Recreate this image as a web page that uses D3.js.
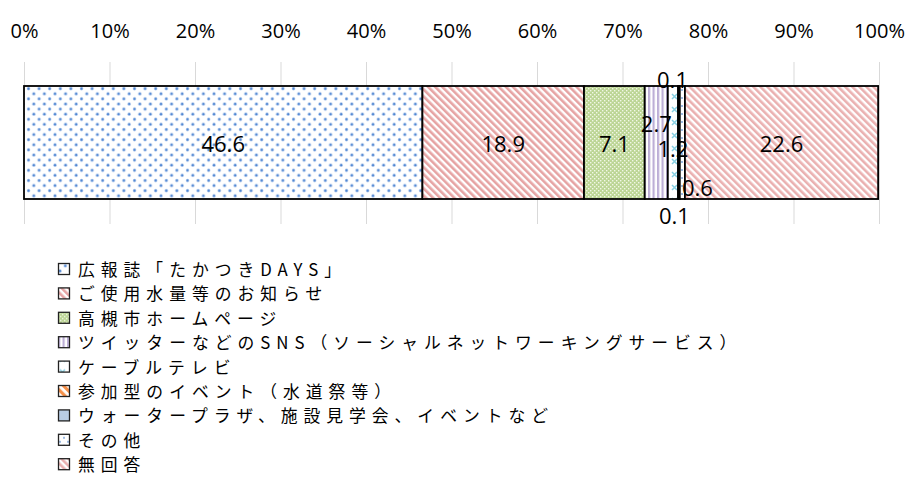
<!DOCTYPE html>
<html>
<head>
<meta charset="utf-8">
<script src="https://cdn.jsdelivr.net/npm/d3@7"></script>
<style>
  body { margin: 0; background: #fff; }
  .axis text { font-family: "Open Sans", sans-serif; font-weight: 400; font-size: 20px; fill: #000; }
  .axis path { display: none; }
  .grid line { stroke: #d9d9d9; stroke-width: 1; }
  .grid path { display: none; }
  .value-label { font-family: "Open Sans", sans-serif; font-weight: 400; font-size: 22px; fill: #000; }
  .legend-text { font-family: "Noto Sans CJK JP", sans-serif; font-size: 16.8px; letter-spacing: 6px; fill: #000; }
</style>
</head>
<body>
<svg id="chart" width="910" height="492"></svg>
<script>
//Series names (legend order) and values in %
const seriesNames = [
  "広報誌「たかつきDAYS」",
  "ご使用水量等のお知らせ",
  "高槻市ホームページ",
  "ツイッターなどのSNS（ソーシャルネットワーキングサービス）",
  "ケーブルテレビ",
  "参加型のイベント（水道祭等）",
  "ウォータープラザ、施設見学会、イベントなど",
  "その他",
  "無回答"
];
const seriesValues = [46.6, 18.9, 7.1, 2.7, 1.2, 0.1, 0.1, 0.6, 22.6];
const tickValues = [0, 10, 20, 30, 40, 50, 60, 70, 80, 90, 100];

//Layout
const svg = d3.select("#chart");
const left = 24, right = 879;
const barTop = 86, barBottom = 199;
const gridTop = 62, gridBottom = 224;

const x = d3.scaleLinear().domain([0, 100]).range([left, right]);

//Patterns for every series
const defs = svg.append("defs");

function pattern(id, w, h, bg) {
  const p = defs.append("pattern")
    .attr("id", id)
    .attr("patternUnits", "userSpaceOnUse")
    .attr("width", w)
    .attr("height", h);
  p.append("rect").attr("width", w).attr("height", h).attr("fill", bg);
  return p;
}

// dots blue
let p = pattern("p0", 10.6, 10.2, "#fff");
p.append("circle").attr("cx", 2).attr("cy", 2).attr("r", 1.7).attr("fill", "#a3c0ea");
p.append("circle").attr("cx", 7.3).attr("cy", 7.1).attr("r", 1.7).attr("fill", "#a3c0ea");
p.append("circle").attr("cx", 2).attr("cy", 2).attr("r", 1).attr("fill", "#4a82d0");
p.append("circle").attr("cx", 7.3).attr("cy", 7.1).attr("r", 1).attr("fill", "#4a82d0");

// pink diagonal
p = pattern("p1", 5, 5, "#fff").attr("patternTransform", "rotate(-45)");
p.append("rect").attr("width", 2.6).attr("height", 5).attr("fill", "#e6a3a3");

// green fine check
p = pattern("p2", 4, 4, "#bcd595");
p.append("rect").attr("x", 0).attr("y", 0).attr("width", 1.4).attr("height", 1.4).attr("fill", "#f1f7e6");
p.append("rect").attr("x", 2).attr("y", 2).attr("width", 1.4).attr("height", 1.4).attr("fill", "#f1f7e6");

// purple vertical
p = pattern("p3", 4.5, 4, "#fff");
p.append("rect").attr("width", 2.2).attr("height", 4).attr("fill", "#bcaed6");

// light blue crosses
p = pattern("p4", 10, 13, "#fff");
p.append("path").attr("d", "M2,3L7,8M7,3L2,8").attr("stroke", "#86cfe2").attr("stroke-width", 1.5);

// orange diagonal
p = pattern("p5", 6, 6, "#fff").attr("patternTransform", "rotate(-45)");
p.append("rect").attr("width", 3.2).attr("height", 6).attr("fill", "#f6914a");

// light blue solid
pattern("p6", 4, 4, "#b9cde5");

// sparse dots
p = pattern("p7", 8, 8, "#fff");
p.append("circle").attr("cx", 2).attr("cy", 2).attr("r", 0.9).attr("fill", "#6f9bd6");
p.append("circle").attr("cx", 6).attr("cy", 6).attr("r", 0.9).attr("fill", "#6f9bd6");

// light pink diagonal
p = pattern("p8", 5, 5, "#fff").attr("patternTransform", "rotate(-45)");
p.append("rect").attr("width", 2.6).attr("height", 5).attr("fill", "#eab0b0");

//Grid lines
svg.append("g")
  .attr("class", "grid")
  .attr("transform", `translate(0,${gridTop})`)
  .call(d3.axisBottom(x).tickValues(tickValues).tickSize(gridBottom - gridTop).tickFormat(""));

//Top axis labels
svg.append("g")
  .attr("class", "axis")
  .attr("transform", "translate(0,38)")
  .call(d3.axisTop(x).tickValues(tickValues).tickSize(0).tickPadding(0).tickFormat(d => d + "%"));

//Stacked segments
let acc = 0;
const segments = seriesValues.map((v, i) => {
  const s = { i, v, x0: acc, x1: acc + v };
  acc += v;
  return s;
});

svg.append("g")
  .selectAll("rect")
  .data(segments)
  .enter()
  .append("rect")
  .attr("x", d => x(d.x0))
  .attr("y", barTop)
  .attr("width", d => x(d.x1) - x(d.x0))
  .attr("height", barBottom - barTop)
  .attr("fill", d => `url(#p${d.i})`)
  .attr("stroke", "#000")
  .attr("stroke-width", 1.8);

//Label offsets for the small segments
const labelShift = [[0, 0], [0, 0], [0, 0], [0, -20], [0, 5], [-6, -64], [-5, 72], [15, 44], [0, 0]];
const midY = (barTop + barBottom) / 2;

svg.append("g")
  .selectAll("text")
  .data(segments)
  .enter()
  .append("text")
  .attr("class", "value-label")
  .attr("x", d => (x(d.x0) + x(d.x1)) / 2 + labelShift[d.i][0])
  .attr("y", d => midY + labelShift[d.i][1])
  .attr("text-anchor", "middle")
  .attr("dominant-baseline", "central")
  .text(d => d.v.toFixed(1));

//Legend
const legend = svg.append("g")
  .selectAll("g")
  .data(seriesNames)
  .enter()
  .append("g")
  .attr("transform", (d, i) => `translate(58,${269 + i * 24.4})`);

legend.append("rect")
  .attr("x", 0.5)
  .attr("y", -5.5)
  .attr("width", 11)
  .attr("height", 11)
  .attr("fill", (d, i) => `url(#p${i})`)
  .attr("stroke", "#222")
  .attr("stroke-width", 1.3);

legend.append("text")
  .attr("class", "legend-text")
  .attr("x", 20)
  .attr("y", 0)
  .attr("dominant-baseline", "central")
  .text(d => d);
</script>
</body>
</html>
